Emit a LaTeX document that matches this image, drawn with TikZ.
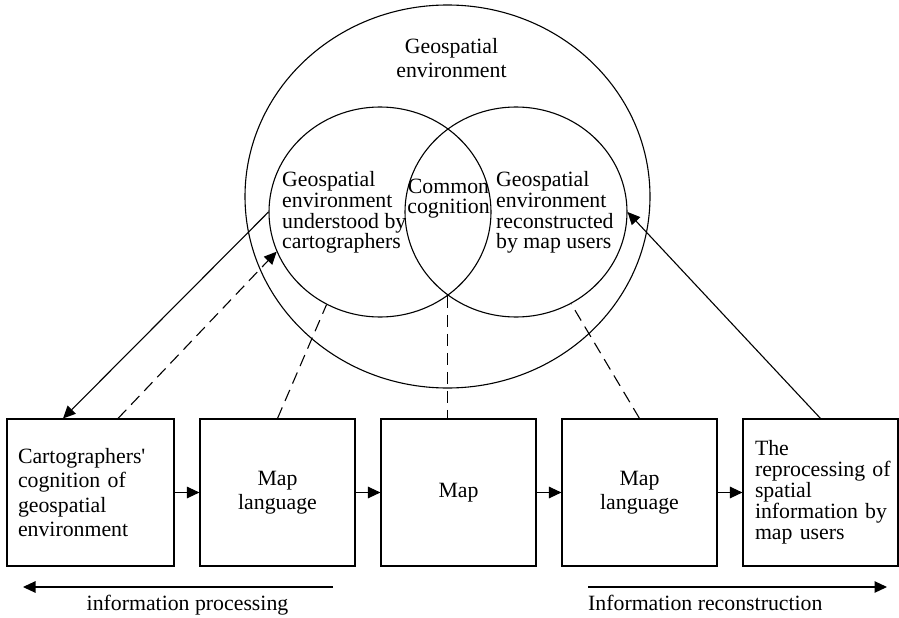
\documentclass[tikz,border=0pt]{standalone}
\usepackage{fontspec}
\setmainfont{Liberation Serif}
\usetikzlibrary{shapes.geometric,arrows.meta,calc}
\newcommand{\wideline}[1]{\leavevmode\rlap{#1}}
\begin{document}
\begin{tikzpicture}[x=1pt,y=-1pt,
  every node/.style={font=\fontsize{21.8}{24}\selectfont},
  ring/.style={draw, ellipse, inner sep=0pt, line width=1.1pt},
  box/.style={draw, rectangle, line width=1.1pt, minimum height=147pt, inner ysep=0pt},
  lbl/.style={inner sep=0pt},
  flow/.style={line width=1.1pt, -{Triangle[length=12.5pt,width=11.5pt]}},
  link/.style={line width=1.1pt, dash pattern=on 12pt off 7pt},
]
\fill[white] (0,0) rectangle (899,618);
\useasboundingbox (0,0) rectangle (899,618);

% circles
\node[ring, minimum width=405pt, minimum height=383pt] (E) at (447.5,196.5) {};
\node[ring, minimum width=222pt, minimum height=210pt] (L) at (380,212) {};
\node[ring, minimum width=222pt, minimum height=210pt] (R) at (516,212) {};

% circle texts
\node[lbl, align=center, anchor=north] (Et) at (451.5,38.6) {Geospatial\\environment};
\node[lbl, align=left, anchor=north west, font=\fontsize{21.8}{20.7}\selectfont] (Lt) at (282,171.4)
  {Geospatial\\environment\\understood by\\cartographers};
\node[lbl, align=left, anchor=north west, font=\fontsize{21.8}{20.7}\selectfont] (Rt) at (496,171.4)
  {Geospatial\\environment\\reconstructed\\by map users};
\node[lbl, align=center, anchor=north, font=\fontsize{21.8}{20}\selectfont] (Ct) at (448.5,178.5)
  {Common\\cognition};

% boxes
\node[box, minimum width=167pt, text width=145pt, inner xsep=11pt, align=left,
      font=\fontsize{21.8}{24.6}\selectfont] (b1) at (90.5,492.5)
  {Cartographers\textquotesingle\\cognition of\\geospatial\\environment};
\node[box, minimum width=155pt, align=center] (b2) at (277.5,492.5) {Map\\language};
\node[box, minimum width=155pt, align=center] (b3) at (458.5,492.5) {Map};
\node[box, minimum width=155pt, align=center] (b4) at (639.5,492.5) {Map\\language};
\node[box, minimum width=155pt, text width=131pt, inner xsep=12pt, align=left,
      font=\fontsize{21.8}{21}\selectfont] (b5) at (820.5,492.5)
  {The\\\wideline{reprocessing of}\\spatial\\\wideline{information by}\\map users};

% box to box arrows
\draw[flow] (b1.east) -- (b2.west);
\draw[flow] (b2.east) -- (b3.west);
\draw[flow] (b3.east) -- (b4.west);
\draw[flow] (b4.east) -- (b5.west);

% connectors to circles
\draw[flow] (L.west) -- ($(b1.north)+(-27.5,0)$);
\draw[flow, link] ($(b1.north)+(27.5,0)$) -- (L.201.7);
\draw[link] (b2.north) -- (L.240.8);
\draw[link] (L.309.3) -- (L.309.3 |- b3.north);
\draw[link] (b4.north) -- (R.301);
\draw[flow] (b5.north) -- (R.east);

% bottom arrows
\coordinate (pa) at (333,587);
\coordinate (pb) at (23,587);
\draw[flow] (pa) -- (pb);
\node[lbl, anchor=base] (pt) at (187.5,610.7) {information processing};
\coordinate (ra) at (588,587);
\coordinate (rb) at (887,587);
\draw[flow] (ra) -- (rb);
\node[lbl, anchor=base west] (rt) at (588,610.7) {Information reconstruction};
\end{tikzpicture}
\end{document}
